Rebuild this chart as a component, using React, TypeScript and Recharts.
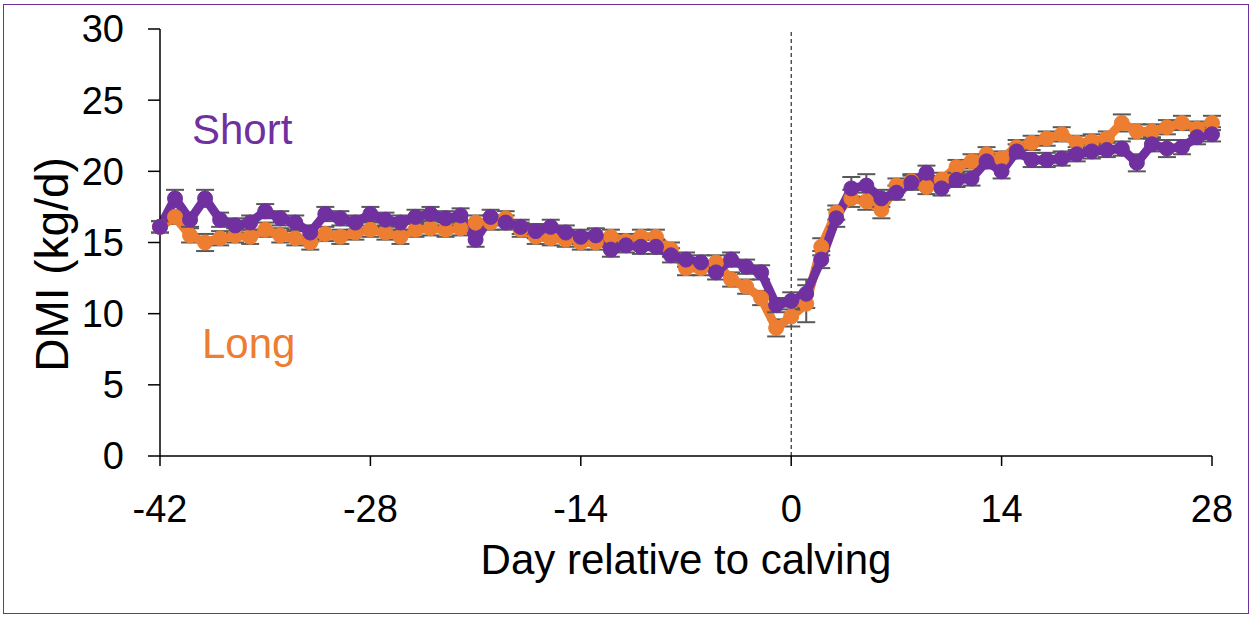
import React from 'react'
import {
  LineChart,
  Line,
  XAxis,
  YAxis,
  ErrorBar,
  ReferenceLine,
} from 'recharts'

const days = [
  -42, -41, -40, -39, -38, -37, -36, -35, -34, -33, -32, -31, -30, -29, -28,
  -27, -26, -25, -24, -23, -22, -21, -20, -19, -18, -17, -16, -15, -14, -13,
  -12, -11, -10, -9, -8, -7, -6, -5, -4, -3, -2, -1, 0, 1, 2, 3, 4, 5, 6, 7,
  8, 9, 10, 11, 12, 13, 14, 15, 16, 17, 18, 19, 20, 21, 22, 23, 24, 25, 26,
  27, 28,
]

const longDmi = [
  16.1, 16.8, 15.5, 15.0, 15.3, 15.5, 15.4, 15.9, 15.5, 15.3, 15.0, 15.6, 15.4,
  15.7, 15.9, 15.7, 15.4, 15.9, 16.0, 15.9, 16.0, 16.4, 16.4, 16.7, 15.9, 15.4,
  15.3, 15.2, 15.0, 15.0, 15.4, 15.1, 15.4, 15.4, 14.5, 13.2, 13.2, 13.6, 12.4,
  11.9, 11.1, 9.0, 9.8, 10.7, 14.7, 17.1, 18.1, 17.9, 17.3, 19.0, 19.3, 18.9,
  19.4, 20.3, 20.7, 21.2, 20.9, 21.7, 22.0, 22.3, 22.6, 22.0, 22.1, 22.3, 23.4,
  22.8, 22.8, 23.1, 23.4, 23.0, 23.4,
]

const longSe = [
  0.4, 0.5, 0.5, 0.6, 0.5, 0.5, 0.5, 0.5, 0.5, 0.5, 0.5, 0.5, 0.5, 0.5, 0.5,
  0.5, 0.5, 0.5, 0.5, 0.5, 0.5, 0.5, 0.5, 0.5, 0.5, 0.5, 0.5, 0.5, 0.5, 0.5,
  0.5, 0.5, 0.5, 0.5, 0.5, 0.5, 0.5, 0.5, 0.5, 0.5, 0.5, 0.6, 0.7, 1.3, 0.6,
  0.5, 0.6, 0.6, 0.6, 0.5, 0.5, 0.5, 0.5, 0.5, 0.5, 0.5, 0.5, 0.5, 0.5, 0.5,
  0.5, 0.5, 0.5, 0.5, 0.6, 0.5, 0.5, 0.5, 0.5, 0.5, 0.5,
]

const shortDmi = [
  16.1, 18.1, 16.6, 18.1, 16.6, 16.2, 16.4, 17.2, 16.7, 16.4, 15.7, 17.0, 16.7,
  16.4, 17.0, 16.6, 16.4, 16.8, 17.0, 16.7, 16.9, 15.2, 16.8, 16.4, 16.1, 15.8,
  16.1, 15.7, 15.4, 15.5, 14.5, 14.8, 14.7, 14.7, 14.1, 13.8, 13.6, 12.9, 13.8,
  13.3, 12.9, 10.6, 10.9, 11.4, 13.8, 16.7, 18.8, 19.0, 18.1, 18.5, 19.2, 19.9,
  18.8, 19.4, 19.5, 20.7, 20.0, 21.4, 20.8, 20.8, 20.9, 21.2, 21.4, 21.5, 21.6,
  20.6, 21.9, 21.6, 21.7, 22.4, 22.6,
]

const shortSe = [
  0.4, 0.6, 0.5, 0.6, 0.5, 0.5, 0.5, 0.5, 0.5, 0.5, 0.5, 0.5, 0.5, 0.5, 0.5,
  0.5, 0.5, 0.5, 0.5, 0.5, 0.5, 0.5, 0.5, 0.5, 0.5, 0.5, 0.5, 0.5, 0.5, 0.5,
  0.5, 0.5, 0.5, 0.5, 0.5, 0.5, 0.5, 0.5, 0.5, 0.5, 0.5, 0.5, 0.6, 1.0, 0.6,
  0.6, 0.8, 0.8, 0.6, 0.5, 0.5, 0.5, 0.5, 0.5, 0.5, 0.5, 0.5, 0.5, 0.5, 0.5,
  0.5, 0.5, 0.5, 0.5, 0.5, 0.6, 0.5, 0.6, 0.5, 0.5, 0.5,
]

const xTicks = [-42, -28, -14, 0, 14, 28]
const yTicks = [0, 5, 10, 15, 20, 25, 30]

const data = days.map((d, i) => ({
  day: d,
  long: longDmi[i],
  longSe: longSe[i],
  short: shortDmi[i],
  shortSe: shortSe[i],
}))

const PURPLE = '#7030A0'
const ORANGE = '#ED7D31'
const FONT = '"Liberation Sans", Arial, sans-serif'

// y-axis title, placed a little below the plot's centre like the original
const YTitle = ({ viewBox }: any) => {
  const cx = viewBox.x + 52
  const cy = viewBox.y + viewBox.height / 2 + 22
  return (
    <text
      x={cx}
      y={cy}
      transform={`rotate(-90 ${cx} ${cy})`}
      textAnchor="middle"
      dominantBaseline="central"
      fontSize={46}
      fontFamily={FONT}
      fill="#000"
    >
      DMI (kg/d)
    </text>
  )
}

export default function App() {
  return (
    <div
      style={{
        position: 'fixed',
        left: 0,
        top: 0,
        width: 1254,
        height: 618,
        background: '#fff',
        fontFamily: FONT,
      }}
    >
      <div
        style={{
          position: 'absolute',
          left: 3,
          top: 4,
          width: 1246,
          height: 610,
          border: `1.5px solid ${PURPLE}`,
          boxSizing: 'border-box',
        }}
      />
      <LineChart
        width={1254}
        height={618}
        data={data}
        margin={{ top: 29, right: 42, left: 0, bottom: 0 }}
        style={{ position: 'absolute', left: 0, top: 0 }}
      >
        <XAxis
          dataKey="day"
          type="number"
          domain={[-42, 28]}
          ticks={xTicks}
          height={162}
          stroke="#000"
          strokeWidth={1.5}
          tickSize={10}
          tickMargin={29}
          tick={{ fontSize: 38, fill: '#000', fontFamily: FONT }}
          label={{
            value: 'Day relative to calving',
            position: 'insideTop',
            offset: 88,
            fontSize: 42,
            fill: '#000',
            fontFamily: FONT,
          }}
        />
        <YAxis
          domain={[0, 30]}
          ticks={yTicks}
          width={160}
          stroke="#000"
          strokeWidth={1.5}
          tickSize={12}
          tickMargin={24}
          tick={{ fontSize: 38, fill: '#000', fontFamily: FONT }}
          label={{ content: YTitle }}
        />
        <ReferenceLine
          x={0}
          stroke="#000"
          strokeWidth={1}
          strokeDasharray="4 3"
        />
        <Line
          dataKey="long"
          stroke={ORANGE}
          strokeWidth={9}
          dot={{ r: 7.5, fill: ORANGE, stroke: ORANGE, strokeWidth: 1 }}
          activeDot={false}
          isAnimationActive={false}
        >
          <ErrorBar
            dataKey="longSe"
            direction="y"
            width={9}
            stroke="#595959"
            strokeWidth={2}
          />
        </Line>
        <Line
          dataKey="short"
          stroke={PURPLE}
          strokeWidth={9}
          dot={{ r: 7.5, fill: PURPLE, stroke: PURPLE, strokeWidth: 1 }}
          activeDot={false}
          isAnimationActive={false}
        >
          <ErrorBar
            dataKey="shortSe"
            direction="y"
            width={9}
            stroke="#595959"
            strokeWidth={2}
          />
        </Line>
      </LineChart>
      <div
        style={{
          position: 'absolute',
          left: 192,
          top: 106,
          fontSize: 42,
          color: PURPLE,
          lineHeight: '48px',
        }}
      >
        Short
      </div>
      <div
        style={{
          position: 'absolute',
          left: 202,
          top: 320,
          fontSize: 42,
          color: ORANGE,
          lineHeight: '48px',
        }}
      >
        Long
      </div>
    </div>
  )
}
